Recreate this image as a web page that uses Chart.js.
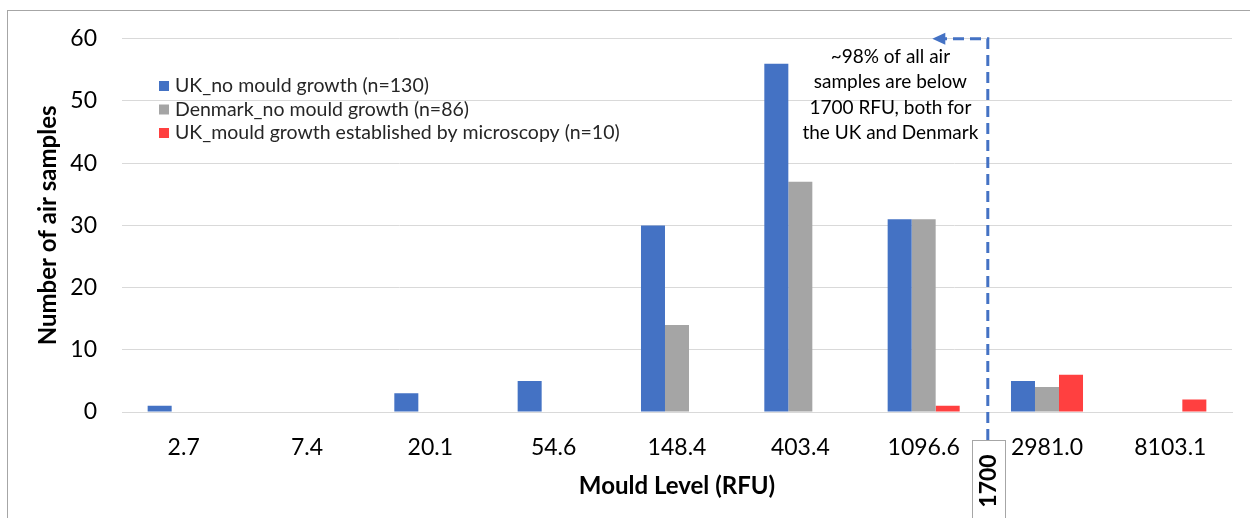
<!DOCTYPE html>
<html>
<head>
<meta charset="utf-8">
<script src="https://cdn.jsdelivr.net/npm/chart.js@4.4.1/dist/chart.umd.min.js"></script>
<style>
  html, body { margin: 0; padding: 0; background: #fff; }
  #wrap { position: relative; width: 1250px; height: 518px; overflow: hidden; }
  #frame { position: absolute; left: 7px; top: 10px; width: 1260px; height: 530px; border: 1px solid #a6a6a6; pointer-events: none; }
  canvas { position: absolute; left: 0; top: 0; }
</style>
</head>
<body>
<div id="wrap">
  <div id="frame"></div>
  <canvas id="mouldChart" width="1250" height="518"></canvas>
</div>
<script>
// Data
const levels = ['2.7', '7.4', '20.1', '54.6', '148.4', '403.4', '1096.6', '2981.0', '8103.1'];
const ukNoMould = [1, 0, 3, 5, 30, 56, 31, 5, 0];
const dkNoMould = [0, 0, 0, 0, 14, 37, 31, 4, 0];
const ukMould = [0, 0, 0, 0, 0, 0, 1, 6, 2];
const seriesNames = [
  'UK_no mould growth (n=130)',
  'Denmark_no mould growth (n=86)',
  'UK_mould growth established by microscopy (n=10)'
];
const cutoffLabel = '1700';
const cutoffPos = 6.52;   // position on the category axis
const noteLines = ['~98% of all air', 'samples are below', '1700 RFU, both for', 'the UK and Denmark'];

const FONT = 'Lato, "Open Sans", sans-serif';

// legend drawn inside the plot, top left
const insideLegend = {
  id: 'insideLegend',
  afterDraw(chart) {
    const ctx = chart.ctx;
    ctx.save();
    ctx.font = '19.5px ' + FONT;
    ctx.textBaseline = 'middle';
    chart.data.datasets.forEach((ds, i) => {
      const y = 86 + i * 23.5;
      ctx.fillStyle = ds.backgroundColor;
      ctx.fillRect(159, y - 5, 10, 10);
      ctx.fillStyle = '#262626';
      ctx.fillText(ds.label, 175, y);
    });
    ctx.restore();
  }
};

// dashed 1700 cut-off marker with note
const cutoffMarker = {
  id: 'cutoffMarker',
  afterDatasetsDraw(chart) {
    const ctx = chart.ctx;
    const xs = chart.scales.x, ys = chart.scales.y;
    const x = xs.getPixelForValue(cutoffPos);
    const yTop = ys.getPixelForValue(60);
    const tipX = xs.getPixelForValue(6.07);
    const boxTop = 440;

    ctx.save();
    ctx.strokeStyle = '#4472C4';
    ctx.lineWidth = 3;
    ctx.setLineDash([11, 6]);
    ctx.beginPath();
    ctx.moveTo(x, boxTop);
    ctx.lineTo(x, yTop);
    ctx.lineTo(tipX + 10, yTop);
    ctx.stroke();
    ctx.setLineDash([]);
    ctx.fillStyle = '#4472C4';
    ctx.beginPath();
    ctx.moveTo(tipX, yTop);
    ctx.lineTo(tipX + 13, yTop - 6);
    ctx.lineTo(tipX + 13, yTop + 6);
    ctx.closePath();
    ctx.fill();

    // label box
    ctx.fillStyle = '#fff';
    ctx.fillRect(x - 16, boxTop, 33, 90);
    ctx.strokeStyle = '#a6a6a6';
    ctx.lineWidth = 1;
    ctx.strokeRect(Math.round(x - 16) + 0.5, boxTop + 0.5, 33, 90);
    ctx.translate(x + 1, 481);
    ctx.rotate(-Math.PI / 2);
    ctx.fillStyle = '#000';
    ctx.font = 'bold 23px ' + FONT;
    ctx.textAlign = 'center';
    ctx.textBaseline = 'middle';
    ctx.fillText(cutoffLabel, 0, 0);
    ctx.restore();

    // note text
    ctx.save();
    ctx.font = '19px ' + FONT;
    ctx.fillStyle = '#000';
    ctx.textAlign = 'center';
    ctx.textBaseline = 'middle';
    const nx = xs.getPixelForValue(5.73);
    noteLines.forEach((t, i) => ctx.fillText(t, nx, 57 + i * 25.3));
    ctx.restore();
  }
};

const ctx = document.getElementById('mouldChart').getContext('2d');
const chart = new Chart(ctx, {
  type: 'bar',
  data: {
    labels: levels,
    datasets: [
      { label: seriesNames[0], data: ukNoMould, backgroundColor: '#4472C4' },
      { label: seriesNames[1], data: dkNoMould, backgroundColor: '#A5A5A5' },
      { label: seriesNames[2], data: ukMould, backgroundColor: '#FF4040' }
    ]
  },
  options: {
    responsive: false,
    animation: false,
    layout: { padding: { left: 0, top: 36, right: 18, bottom: 0 } },
    datasets: { bar: { categoryPercentage: 0.584, barPercentage: 1 } },
    plugins: { legend: { display: false }, tooltip: { enabled: false } },
    scales: {
      x: {
        grid: { display: false, drawTicks: false },
        border: { display: true, color: '#d9d9d9', width: 1 },
        ticks: { color: '#000', font: { family: FONT, size: 23 }, padding: 22, maxRotation: 0 },
        title: { display: true, text: 'Mould Level (RFU)', color: '#000', font: { family: FONT, size: 24, weight: 'bold' }, padding: { top: 0, bottom: 17 } },
        afterFit(scale) { scale.height = 106; }
      },
      y: {
        min: 0, max: 60,
        grid: { color: '#d9d9d9', drawTicks: false },
        border: { display: false },
        ticks: { stepSize: 10, color: '#000', font: { family: FONT, size: 23 }, padding: 25 },
        title: { display: true, text: 'Number of air samples', color: '#000', font: { family: FONT, size: 24, weight: 'bold' }, padding: { top: 34, bottom: 0 } },
        afterFit(scale) { scale.width = 122; }
      }
    }
  },
  plugins: [insideLegend, cutoffMarker]
});
</script>
</body>
</html>
